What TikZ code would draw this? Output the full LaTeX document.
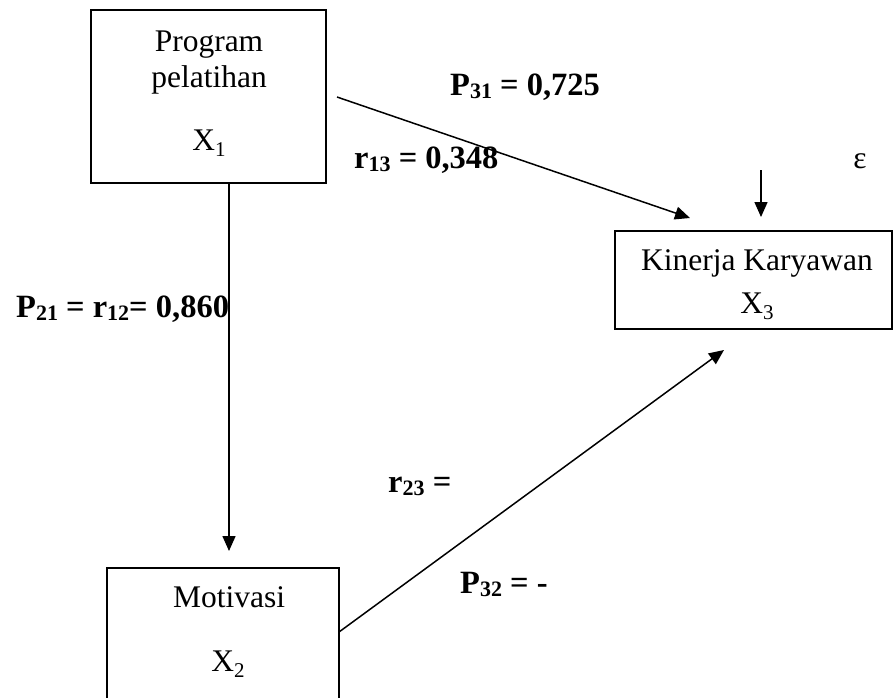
\documentclass[tikz,border=0pt]{standalone}
\usepackage{fontspec}
\setmainfont{Liberation Serif}
\usetikzlibrary{arrows.meta}
\newcommand\lsub[1]{\raisebox{-0.25ex}{\fontsize{22}{22}\selectfont #1}}
\newcommand\tsub[1]{\raisebox{-0.45ex}{\fontsize{21}{21}\selectfont #1}}
\begin{document}
\begin{tikzpicture}[x=1pt,y=-1pt,
  box/.style={draw, line width=1.5pt, inner sep=0pt},
  txt/.style={font=\fontsize{31.5}{36}\selectfont, inner sep=0pt, anchor=base},
  lbl/.style={font=\fontsize{32.5}{36}\selectfont\bfseries, inner sep=0pt, anchor=base west},
  conn/.style={line width=1.5pt, -{Triangle[length=15pt,width=13pt]}}]
\useasboundingbox (0,0) rectangle (893,697);
\clip (0,0) rectangle (893,697);
% boxes
\node[box, minimum width=235pt, minimum height=173pt] (x1) at (208.5,96.5) {};
\node[box, minimum width=277pt, minimum height=98pt] (x3) at (753.5,280) {};
\node[box, minimum width=232pt, minimum height=162pt] (x2) at (223,649) {};
% box texts
\node[txt] (t1a) at (209,51.5) {Program};
\node[txt] (t1b) at (209,87) {pelatihan};
\node[txt] (t1c) at (209,150) {X\tsub{1}};
\node[txt] (t3a) at (757,270) {Kinerja Karyawan};
\node[txt] (t3b) at (757,313) {X\tsub{3}};
\node[txt] (t2a) at (229,607) {Motivasi};
\node[txt] (t2b) at (228,671) {X\tsub{2}};
% connector ends
\coordinate (s12) at (229,183);
\coordinate (e12) at (229,551);
\coordinate (s13) at (337,97);
\coordinate (e13) at (690,218);
\coordinate (s23) at (339,632);
\coordinate (e23) at (724,350);
\coordinate (se) at (761,170);
\coordinate (ee) at (761,217);
\draw[conn] (s12) -- (e12);
\draw[conn] (s13) -- (e13);
\draw[conn] (s23) -- (e23);
\draw[conn] (se) -- (ee);
% labels
\node[txt] (eps) at (860,168) {ε};
\node[lbl] (p31) at (450,95) {P\lsub{31} = 0,725};
\node[lbl] (r13) at (354,168) {r\lsub{13} = 0,348};
\node[lbl] (p21) at (16,317) {P\lsub{21} = r\lsub{12}= 0,860};
\node[lbl] (r23) at (388,492) {r\lsub{23} =};
\node[lbl] (p32) at (460,593) {P\lsub{32} = -};
\end{tikzpicture}
\end{document}
